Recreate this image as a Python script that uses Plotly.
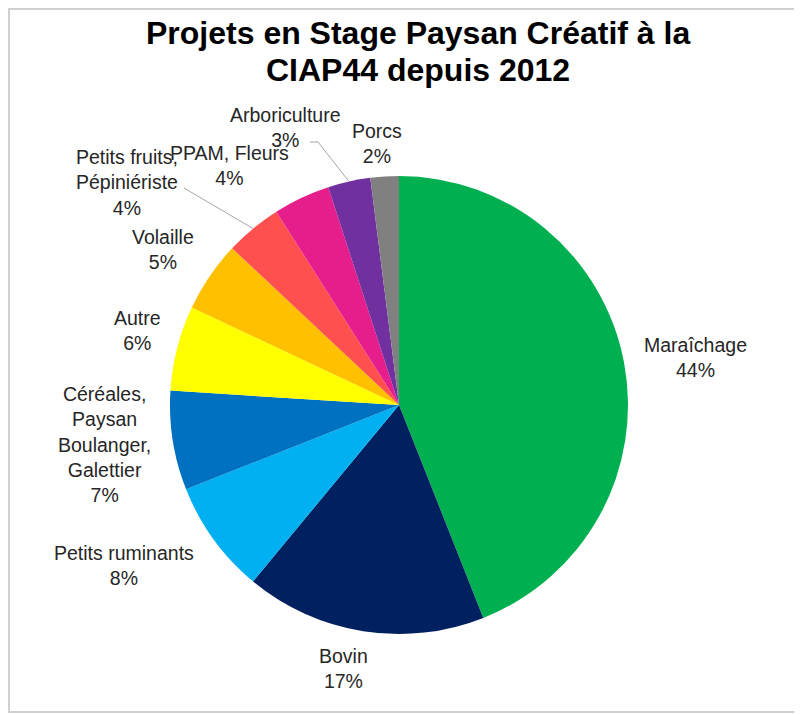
import math
import plotly.graph_objects as go

# ---- data ----
categories = ["Maraîchage", "Bovin", "Petits ruminants",
              "Céréales,<br>Paysan<br>Boulanger,<br>Galettier",
              "Autre", "Volaille", "Petits fruits,<br>Pépiniériste",
              "PPAM, Fleurs", "Arboriculture", "Porcs"]
values = [44, 17, 8, 7, 6, 5, 4, 4, 3, 2]
colors = ["#00B050", "#002060", "#00B0F0", "#0070C0", "#FFFF00",
          "#FFC000", "#FF5050", "#E61E8C", "#7030A0", "#808080"]
title_lines = ["Projets en Stage Paysan Créatif à la", "CIAP44 depuis 2012"]

# ---- layout geometry (page pixels; the page body adds an 8px offset) ----
OFF = 8
W, H = 802 - OFF, 715 - OFF
CX, CY, R = 399, 405, 229
label_pos = [(695, 357), (343, 668), (124, 565), (104, 444), (137, 330),
             (163, 249), (127, 182), (229, 165), (285, 127), (377, 143)]
title_pos = [(418, 33), (418, 70)]


def px(x):
    return (x - OFF) / W


def py(y):
    return 1 - (y - OFF) / H


total = sum(values)
mid_angles = []
acc = 0
for v in values:
    mid_angles.append((acc + v / 2) / total * 360)
    acc += v


def edge(i):
    th = math.radians(mid_angles[i])
    return CX + R * math.sin(th), CY - R * math.cos(th)


fig = go.Figure(go.Pie(
    labels=categories,
    values=values,
    marker=dict(colors=colors, line=dict(width=0)),
    sort=False,
    direction="clockwise",
    rotation=0,
    textinfo="none",
    hoverinfo="label+percent",
    showlegend=False,
    domain=dict(x=[px(CX - R), px(CX + R)], y=[py(CY + R), py(CY - R)]),
))

FONT = "Liberation Sans, Arial, sans-serif"
annotations = []
for i, (lab, v) in enumerate(zip(categories, values)):
    pct = round(v / total * 100)
    x, y = label_pos[i]
    annotations.append(dict(
        x=px(x), y=py(y), xref="paper", yref="paper",
        text=f"{lab}<br>{pct}%", showarrow=False,
        xanchor="center", yanchor="middle", align="center",
        font=dict(family=FONT, size=19.5, color="#262626"),
    ))
for line, (x, y) in zip(title_lines, title_pos):
    annotations.append(dict(
        x=px(x), y=py(y), xref="paper", yref="paper",
        text=f"<b>{line}</b>", showarrow=False, xanchor="center", yanchor="middle",
        align="center", font=dict(family=FONT, size=32, color="#000000"),
    ))

shapes = []
ex, ey = edge(6)
shapes.append(dict(type="path", xref="paper", yref="paper",
                   path=f"M {px(184)} {py(188)} L {px(ex)} {py(ey)}",
                   line=dict(color="#A6A6A6", width=1)))
ex, ey = edge(8)
shapes.append(dict(type="path", xref="paper", yref="paper",
                   path=f"M {px(310)} {py(142)} L {px(318)} {py(142)} L {px(ex)} {py(ey)}",
                   line=dict(color="#A6A6A6", width=1)))
shapes.append(dict(type="rect", xref="paper", yref="paper",
                   x0=px(9), x1=px(815), y0=py(712), y1=py(9),
                   line=dict(color="#D0D0D0", width=2), layer="below"))

fig.update_layout(
    width=W, height=H,
    margin=dict(l=0, r=0, t=0, b=0),
    paper_bgcolor="white", plot_bgcolor="white",
    annotations=annotations,
    shapes=shapes,
)

fig.write_html("out.html")
